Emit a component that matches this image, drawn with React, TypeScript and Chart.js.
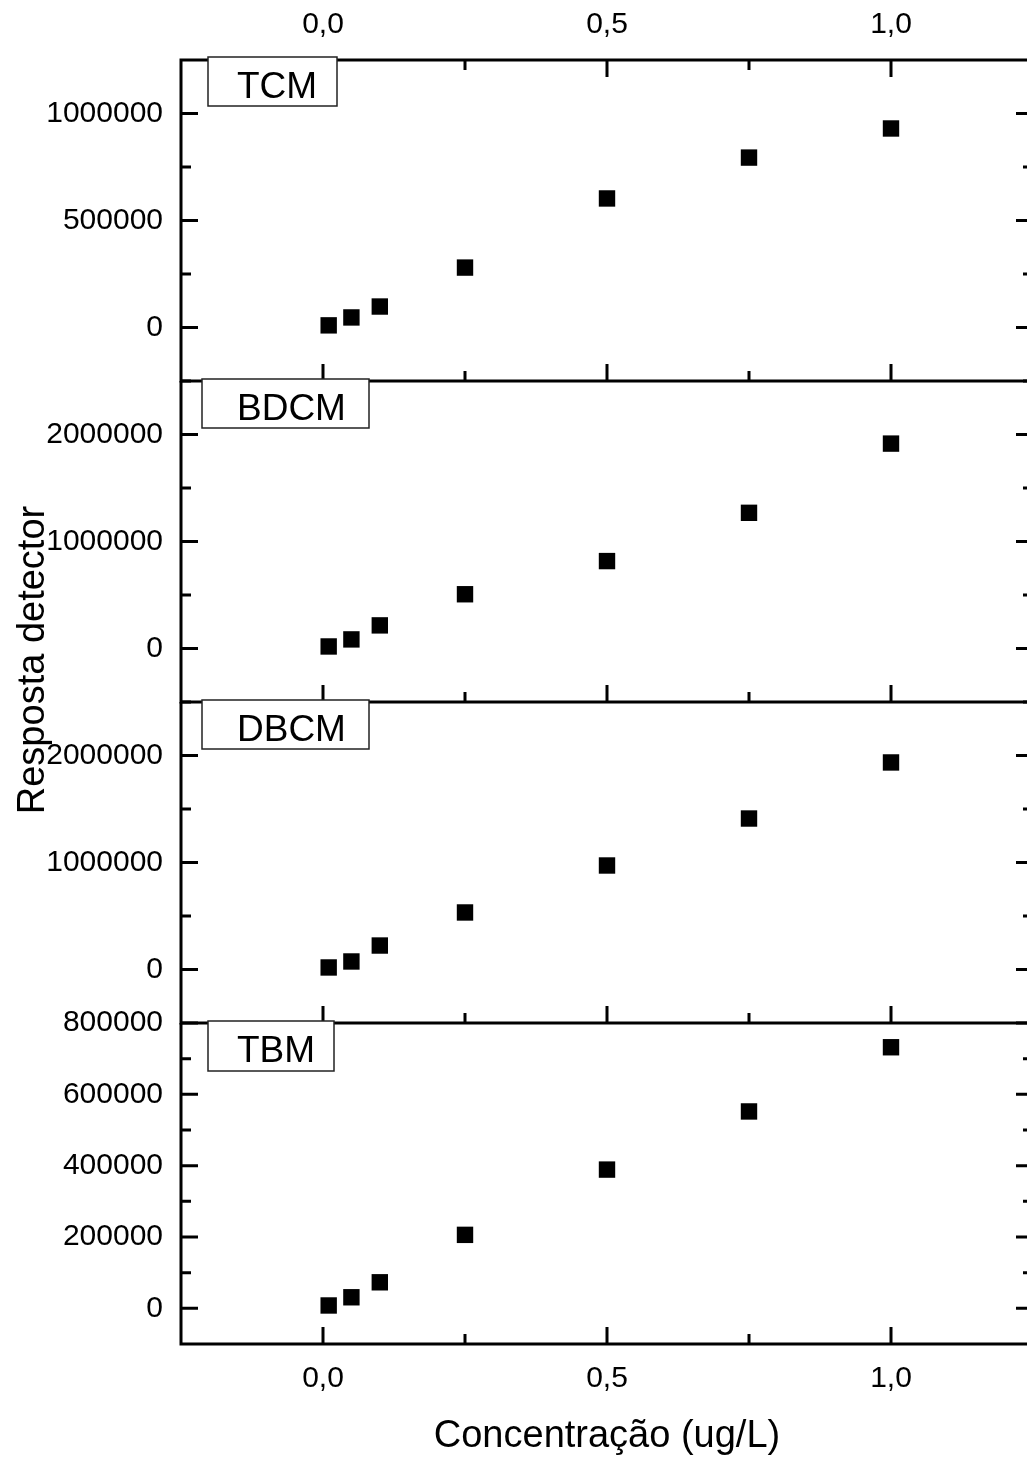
import React, { useEffect, useRef } from 'react';
import { Chart, registerables } from 'chart.js';

Chart.register(...registerables);

// ---------- data ----------
const concentrations = [0.01, 0.05, 0.1, 0.25, 0.5, 0.75, 1.0];
const tcm = [10000, 47000, 98000, 280000, 603000, 794000, 930000];
const bdcm = [19000, 85000, 216000, 507000, 817000, 1268000, 1915000];
const dbcm = [19000, 75000, 224000, 533000, 972000, 1411000, 1935000];
const tbm = [8000, 31000, 73000, 206000, 389000, 552000, 732000];

const panelNames = ['TCM', 'BDCM', 'DBCM', 'TBM'];
const panelSeries = [tcm, bdcm, dbcm, tbm];
const yMins = [-250000, -500000, -500000, -100000];
const yMaxs = [1250000, 2500000, 2500000, 800000];
const ySteps = [250000, 500000, 500000, 100000];
const yLabelSteps = [500000, 1000000, 1000000, 200000];

const xMin = -0.25;
const xMax = 1.25;
const xStep = 0.25;
const xLabelStep = 0.5;

const xTitle = 'Concentração (ug/L)';
const yTitle = 'Resposta detector';

// ---------- layout ----------
const W = 1050;
const H = 1459;
const PLOT_LEFT = 181;
const PLOT_RIGHT = 1033;
const panelTops = [60, 381, 702, 1023];
const panelBottoms = [381, 702, 1023, 1344];
const FONT = '"Liberation Sans", Arial, sans-serif';

const isMultiple = (v: number, step: number) => {
  const r = v / step;
  return Math.abs(r - Math.round(r)) < 1e-6;
};

const boxGeom = [
  { dx: 27, dy: -3, w: 129, h: 49 },
  { dx: 21, dy: -2, w: 167, h: 49 },
  { dx: 21, dy: -2, w: 167, h: 49 },
  { dx: 27, dy: -2, w: 126, h: 50 },
];

function makeFramePlugin(idx: number) {
  return {
    id: 'frame' + idx,
    afterDraw(chart: any) {
      const ctx = chart.ctx;
      const { left, right, top, bottom } = chart.chartArea;
      const xs = chart.scales.x;
      const ys = chart.scales.y;
      ctx.save();
      ctx.strokeStyle = '#000';
      ctx.lineWidth = 3;
      ctx.lineCap = 'butt';
      ctx.beginPath();
      // left border
      ctx.moveTo(left, idx === 0 ? top - 1.5 : top);
      ctx.lineTo(left, idx === 3 ? bottom + 1.5 : bottom);
      // bottom border
      ctx.moveTo(left - 1.5, bottom);
      ctx.lineTo(right, bottom);
      if (idx === 0) {
        ctx.moveTo(left - 1.5, top);
        ctx.lineTo(right, top);
      }
      // y ticks (inward, both sides)
      ys.ticks.forEach((t: any) => {
        const y = ys.getPixelForValue(t.value);
        const len = isMultiple(t.value, yLabelSteps[idx]) ? 17 : 10;
        ctx.moveTo(left, y);
        ctx.lineTo(left + len, y);
        ctx.moveTo(right, y);
        ctx.lineTo(right - len, y);
      });
      // x ticks (inward)
      xs.ticks.forEach((t: any) => {
        const x = xs.getPixelForValue(t.value);
        const len = isMultiple(t.value, xLabelStep) ? 17 : 10;
        ctx.moveTo(x, bottom);
        ctx.lineTo(x, bottom - len);
        if (idx === 0) {
          ctx.moveTo(x, top);
          ctx.lineTo(x, top + len);
        }
      });
      ctx.stroke();

      // label box
      const g = boxGeom[idx];
      const bx = left + g.dx;
      const by = top + g.dy;
      ctx.fillStyle = '#fff';
      ctx.fillRect(bx, by, g.w, g.h);
      ctx.strokeStyle = '#222';
      ctx.lineWidth = 1.5;
      ctx.strokeRect(bx, by, g.w, g.h);
      ctx.fillStyle = '#000';
      ctx.font = '37px ' + FONT;
      ctx.textAlign = 'left';
      ctx.textBaseline = 'alphabetic';
      ctx.fillText(panelNames[idx], left + 56, by + 41);
      ctx.restore();
    },
  };
}

function Panel({ idx }: { idx: number }) {
  const ref = useRef<HTMLCanvasElement | null>(null);
  useEffect(() => {
    if (!ref.current) return;
    const showX = idx === 0 || idx === 3;
    const chart = new Chart(ref.current, {
      type: 'scatter',
      data: {
        datasets: [
          {
            label: panelNames[idx],
            data: concentrations.map((x, i) => ({ x, y: panelSeries[idx][i] })),
            pointStyle: 'rect',
            pointRadius: 11.6,
            pointHoverRadius: 11.6,
            backgroundColor: '#000',
            borderColor: '#000',
            borderWidth: 0,
            showLine: false,
          },
        ],
      },
      options: {
        animation: false,
        responsive: false,
        maintainAspectRatio: false,
        events: [],
        layout: {
          padding: {
            left: 0,
            right: W - PLOT_RIGHT,
            top: idx === 0 ? 0 : panelTops[idx],
            bottom: idx === 3 ? 0 : H - panelBottoms[idx],
          },
        },
        plugins: {
          legend: { display: false },
          tooltip: { enabled: false },
        },
        scales: {
          x: {
            type: 'linear',
            position: idx === 0 ? 'top' : 'bottom',
            display: showX,
            min: xMin,
            max: xMax,
            grid: { display: false, drawTicks: false },
            border: { display: false },
            ticks: {
              stepSize: xStep,
              autoSkip: false,
              maxRotation: 0,
              padding: 17,
              color: '#000',
              font: { family: FONT, size: 30 },
              callback: (v: any) =>
                isMultiple(Number(v), xLabelStep) ? Number(v).toFixed(1).replace('.', ',') : '',
            },
            title: {
              display: idx === 3,
              text: xTitle,
              color: '#000',
              font: { family: FONT, size: 38 },
              padding: 0,
            },
            afterFit: (s: any) => {
              s.height = idx === 0 ? 60 : idx === 3 ? 115 : 0;
            },
          },
          y: {
            type: 'linear',
            position: 'left',
            min: yMins[idx],
            max: yMaxs[idx],
            grid: { display: false, drawTicks: false },
            border: { display: false },
            ticks: {
              stepSize: ySteps[idx],
              autoSkip: false,
              padding: 18,
              color: '#000',
              font: { family: FONT, size: 30 },
              callback: (v: any) =>
                isMultiple(Number(v), yLabelSteps[idx]) ? String(Math.round(Number(v))) : '',
            },
            afterFit: (s: any) => {
              s.width = PLOT_LEFT;
            },
          },
        },
      },
      plugins: [makeFramePlugin(idx)],
    } as any);
    return () => chart.destroy();
  }, [idx]);
  return (
    <canvas
      ref={ref}
      width={W}
      height={H}
      style={{ position: 'absolute', left: 0, top: 0, width: W, height: H }}
    />
  );
}

export default function App() {
  return (
    <div
      style={{
        position: 'absolute',
        left: 0,
        top: 0,
        width: 1027,
        height: 1459,
        overflow: 'hidden',
        background: '#fff',
      }}
    >
      {[0, 1, 2, 3].map((i) => (
        <Panel key={i} idx={i} />
      ))}
      <div
        style={{
          position: 'absolute',
          left: 31 - 250,
          top: 660 - 25,
          width: 500,
          height: 50,
          lineHeight: '50px',
          textAlign: 'center',
          fontSize: 38,
          fontFamily: FONT,
          color: '#000',
          transform: 'rotate(-90deg)',
          whiteSpace: 'nowrap',
        }}
      >
        {yTitle}
      </div>
    </div>
  );
}
